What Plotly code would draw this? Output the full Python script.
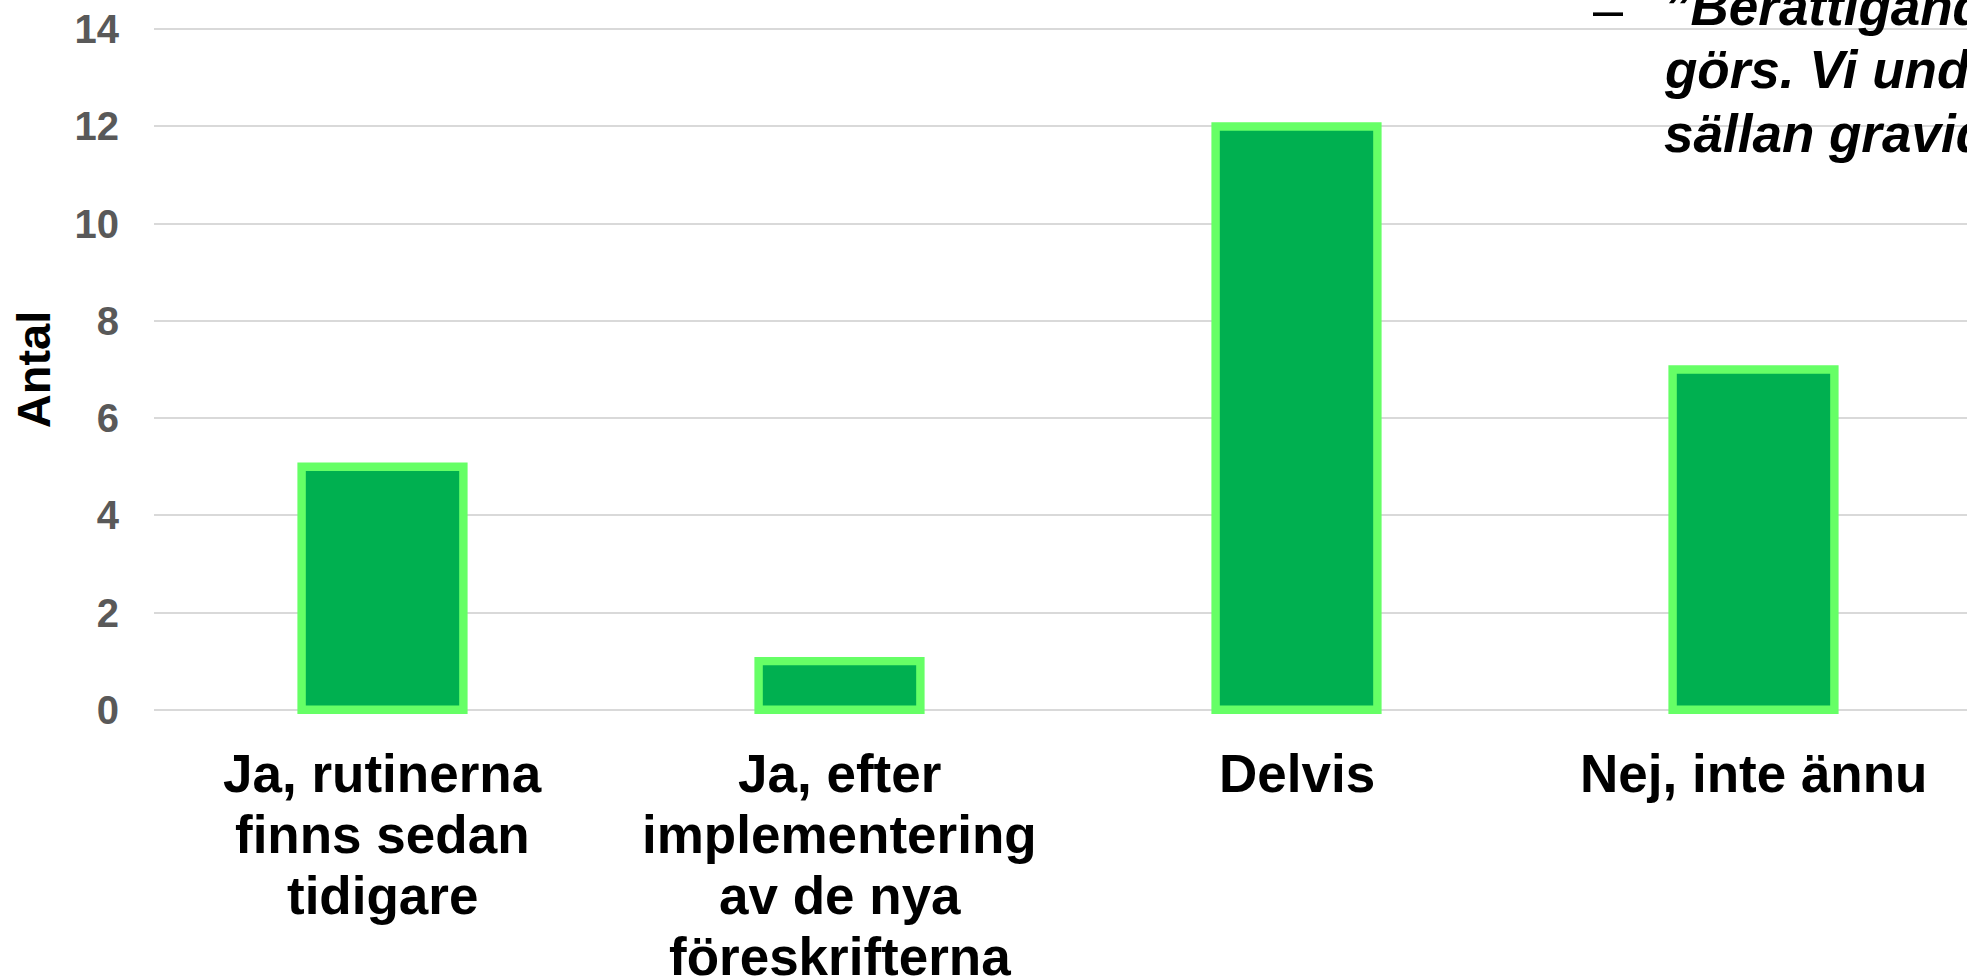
import plotly.graph_objects as go

# ---------------- data ----------------
categories = [
    "Ja, rutinerna finns sedan tidigare",
    "Ja, efter implementering av de nya föreskrifterna",
    "Delvis",
    "Nej, inte ännu",
]
category_lines = [
    ["Ja, rutinerna", "finns sedan", "tidigare"],
    ["Ja, efter", "implementering", "av de nya", "föreskrifterna"],
    ["Delvis"],
    ["Nej, inte ännu"],
]
values = [5, 1, 12, 7]
y_tick_values = [0, 2, 4, 6, 8, 10, 12, 14]
y_title = "Antal"
overlay_bullet = "–"
overlay_lines = ["”Berättigandet", "görs. Vi undersöker", "sällan gravida"]

# ---------------- layout constants ----------------
W, H = 1967, 978
ML, MR, MT, MB = 154, 0, 22, 261
PLOT_W = W - ML - MR
PLOT_H = H - MT - MB
FONT = "Liberation Sans, Arial, Helvetica, sans-serif"


def px_x(px):
    return (px - ML) / PLOT_W


def px_y(py):
    return (H - MB - py) / PLOT_H


fig = go.Figure()
fig.add_trace(
    go.Bar(
        x=categories,
        y=values,
        width=0.354,
        marker=dict(color="#00B050", line=dict(color="#66FF66", width=8.4)),
        hoverinfo="x+y",
    )
)

annotations = []
# category labels (one annotation per line to reproduce tight line spacing)
for cat, lines in zip(categories, category_lines):
    for i, line in enumerate(lines):
        annotations.append(
            dict(
                x=cat, xref="x", y=0, yref="y",
                text=line, showarrow=False,
                xanchor="center", yanchor="middle",
                yshift=-(64 + i * 60.8),
                font=dict(family=FONT, size=53, color="#000000", weight="bold"),
            )
        )

# overlaid slide text at the top right (clipped by page edge)
annotations.append(
    dict(
        x=px_x(1591), xref="paper", y=px_y(9), yref="paper",
        text=overlay_bullet, showarrow=False,
        xanchor="left", yanchor="middle",
        font=dict(family=FONT, size=54, color="#000000"),
    )
)
for i, line in enumerate(overlay_lines):
    annotations.append(
        dict(
            x=px_x(1662), xref="paper", y=px_y(6.6 + i * 63.3), yref="paper",
            text=line, showarrow=False,
            xanchor="left", yanchor="middle",
            font=dict(family=FONT, size=53, color="#000000", weight="bold", style="italic"),
        )
    )

fig.update_layout(
    width=W,
    height=H,
    margin=dict(l=ML, r=MR, t=MT, b=MB, pad=0),
    paper_bgcolor="#FFFFFF",
    plot_bgcolor="#FFFFFF",
    showlegend=False,
    annotations=annotations,
    font=dict(family=FONT),
    xaxis=dict(
        type="category",
        range=[-0.5, -0.5 + PLOT_W / 457.0],
        showticklabels=False,
        showgrid=False,
        zeroline=False,
        showline=False,
        ticks="",
        automargin=False,
    ),
    yaxis=dict(
        range=[-0.15, 14.15],
        tickvals=y_tick_values,
        ticktext=[str(v) for v in y_tick_values],
        tickfont=dict(family=FONT, size=40, color="#595959", weight="bold"),
        ticks="",
        ticklabelstandoff=34,
        showgrid=True,
        gridcolor="#D9D9D9",
        gridwidth=1.5,
        zeroline=False,
        showline=False,
        automargin=False,
        title=dict(
            text=y_title,
            font=dict(family=FONT, size=47, color="#000000", weight="bold"),
            standoff=9,
        ),
    ),
)

fig.write_html(
    "out.html",
    config={"displayModeBar": False},
    post_script="document.body.style.margin='0';document.body.style.overflow='hidden';",
)
